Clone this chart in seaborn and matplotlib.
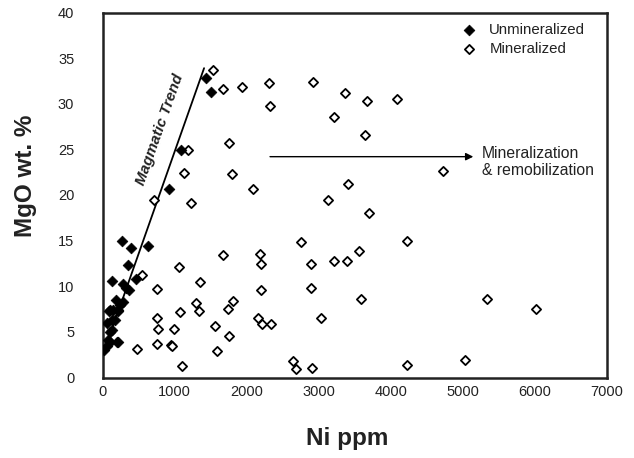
import matplotlib
matplotlib.use("Agg")
import matplotlib.pyplot as plt
import seaborn as sns
import pandas as pd

# Unmineralized samples (filled diamonds)
unmin_ni = [1435, 1504, 1087, 917, 264, 393, 633, 347, 133, 458, 278, 365, 286,
            216, 102, 143, 125, 171, 125, 78, 195, 56, 18, 88, 209, 102, 102,
            216, 245, 186, 323, 59]
unmin_mgo = [32.8, 31.3, 24.9, 20.7, 15.0, 14.2, 14.4, 12.3, 10.6, 10.8, 10.3, 9.6,
             8.3, 7.4, 7.4, 7.4, 6.3, 6.3, 5.2, 4.1, 3.9, 3.4, 3.0, 7.3, 7.3, 5.0,
             3.9, 3.9, 8.0, 8.5, 9.8, 6.0]

# Mineralized samples (open diamonds)
min_ni = [1536, 1667, 1939, 2314, 2324, 1759, 1184, 1133, 1796, 2084, 716, 2926,
          3370, 3672, 4092, 3217, 3639, 4723, 3403, 3125, 3695, 2754, 4226, 3564,
          3209, 3390, 2893, 2897, 3583, 5333, 6019, 3032, 2648, 2685, 2903, 4223,
          5032, 1675, 2185, 2198, 1060, 1356, 2194, 1296, 1814, 1342, 1736, 1074,
          2153, 2213, 2337, 991, 1560, 1750, 948, 958, 1584, 1101, 1223, 541, 750,
          470, 750, 772, 750]
min_mgo = [33.7, 31.6, 31.8, 32.3, 29.7, 25.7, 24.9, 22.4, 22.3, 20.7, 19.5, 32.4,
           31.2, 30.3, 30.5, 28.6, 26.6, 22.6, 21.2, 19.5, 18.0, 14.9, 15.0, 13.9,
           12.8, 12.8, 12.4, 9.8, 8.6, 8.6, 7.5, 6.5, 1.8, 0.9, 1.0, 1.4,
           1.9, 13.4, 13.5, 12.4, 12.1, 10.5, 9.6, 8.2, 8.4, 7.3, 7.5, 7.2,
           6.5, 5.9, 5.9, 5.3, 5.6, 4.5, 3.6, 3.5, 2.9, 1.3, 19.1, 11.2, 9.7,
           3.1, 6.5, 5.3, 3.7]

trend_ni = [0, 1408]
trend_mgo = [2.4, 33.9]

x_ticks = [0, 1000, 2000, 3000, 4000, 5000, 6000, 7000]
y_ticks = [0, 5, 10, 15, 20, 25, 30, 35, 40]

sns.set_style("white")
plt.rcParams["font.family"] = ["Liberation Sans", "DejaVu Sans"]

df = pd.concat([
    pd.DataFrame({"Ni": unmin_ni, "MgO": unmin_mgo, "group": "Unmineralized"}),
    pd.DataFrame({"Ni": min_ni, "MgO": min_mgo, "group": "Mineralized"}),
], ignore_index=True)

TXT = "#222222"
fig = plt.figure(figsize=(6.34, 4.58), dpi=100)
ax = fig.add_axes([102.7 / 634, 1 - 377.5 / 458, 504 / 634, 365 / 458])

sns.scatterplot(data=df[df.group == "Mineralized"], x="Ni", y="MgO", marker="D",
                s=22, facecolor="white", edgecolor="black", linewidth=1.3,
                label="Mineralized", ax=ax, zorder=3)
sns.scatterplot(data=df[df.group == "Unmineralized"], x="Ni", y="MgO", marker="D",
                s=30, color="black", edgecolor="black", linewidth=0.5,
                label="Unmineralized", ax=ax, zorder=4)

sns.lineplot(x=trend_ni, y=trend_mgo, color="black", linewidth=1.3, ax=ax,
             zorder=2, legend=False)

ax.set_xlim(0, 7000)
ax.set_ylim(0, 40)
ax.set_xticks(x_ticks)
ax.set_yticks(y_ticks)
ax.tick_params(axis="both", labelsize=10.5, direction="out", length=3,
               width=1, color="black", labelcolor=TXT)
ax.tick_params(axis="y", pad=17.5)
ax.tick_params(axis="x", pad=2.5)
for sp in ax.spines.values():
    sp.set_visible(True)
    sp.set_color(TXT)
    sp.set_linewidth(1.8)

ax.set_xlabel("Ni ppm", fontsize=17.5, fontweight="bold", color=TXT)
ax.set_ylabel("MgO wt. %", fontsize=17.5, fontweight="bold", color=TXT)
ax.xaxis.set_label_coords(0.486, -0.136)
ax.yaxis.set_label_coords(-0.13, 0.552)

handles, labels = ax.get_legend_handles_labels()
order = [labels.index("Unmineralized"), labels.index("Mineralized")]
leg = ax.legend([handles[i] for i in order], [labels[i] for i in order],
                loc="upper left", bbox_to_anchor=(0.7125, 0.972), frameon=False,
                fontsize=10.8, handletextpad=0.83, labelspacing=0.37,
                handlelength=1.0, borderaxespad=0, borderpad=0)
for t in leg.get_texts():
    t.set_color(TXT)

ax.text(796, 27.2, "Magmatic Trend", rotation=70.5, fontsize=11,
        fontweight="bold", style="italic", ha="center", va="center",
        color=TXT, rotation_mode="anchor")

ax.annotate("", xy=(5147, 24.2), xytext=(2324, 24.2),
            arrowprops=dict(arrowstyle="-|>", color="black", lw=1.0,
                            mutation_scale=11, shrinkA=0, shrinkB=0))
ax.text(5263, 23.6, "Mineralization\n& remobilization", fontsize=11.3,
        ha="left", va="center", color=TXT, linespacing=1.2)

fig.savefig("out.png", dpi=100)
